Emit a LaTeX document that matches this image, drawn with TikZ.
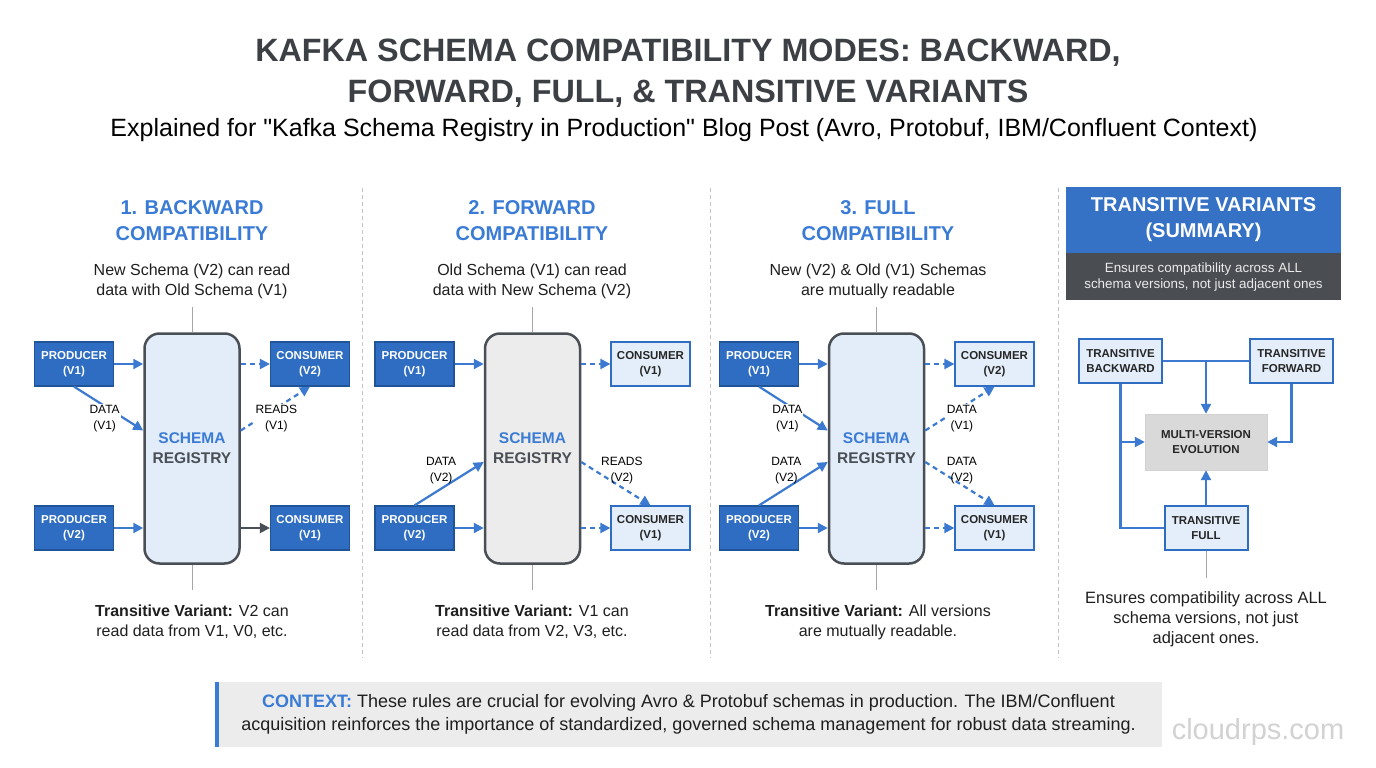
\documentclass[tikz,border=0pt]{standalone}
\usepackage{fontspec}
\setmainfont{Liberation Sans}
\usetikzlibrary{
  arrows.meta,
  positioning,
  calc
}
\definecolor{titlegray}{HTML}{3C4045}
\definecolor{headblue}{HTML}{3A7BD5}
\definecolor{prodblue}{HTML}{2E6DC2}
\definecolor{prodedge}{HTML}{1F5499}
\definecolor{conslight}{HTML}{E4EEFA}
\definecolor{regblue}{HTML}{E2EDF9}
\definecolor{reggray}{HTML}{ECECEC}
\definecolor{regedge}{HTML}{4A4F55}
\definecolor{flowblue}{HTML}{3B7AD0}
\definecolor{sepgray}{HTML}{C4C4C4}
\definecolor{darkband}{HTML}{4A4D52}
\definecolor{ctxgray}{HTML}{ECECEC}
\newcommand{\fsz}[2]{\fontsize{#1}{#2}\selectfont}

\begin{document}
\begin{tikzpicture}[
    x=1pt, y=-1pt,
    % Styles
    title/.style={
        font=\bfseries\fsz{32.3}{41}, text=titlegray,
        align=center, inner sep=0pt
    },
    heading/.style={
        font=\bfseries\fsz{20}{26}, text=headblue,
        align=center, inner sep=0pt
    },
    desc/.style={
        font=\fsz{16}{20}, text=black!88,
        align=center, inner sep=0pt
    },
    prodbox/.style={
        rectangle, draw=prodedge, line width=1.2pt,
        fill=prodblue, text=white,
        minimum width=79pt, minimum height=44pt,
        font=\bfseries\fsz{11.5}{15.5},
        align=center, inner sep=0pt
    },
    consbox/.style={
        prodbox, draw=prodblue, fill=conslight, text=black!85
    },
    registry/.style={
        rectangle, rounded corners=15pt,
        draw=regedge, line width=2.5pt,
        fill=#1, text=regedge,
        minimum width=95pt, minimum height=230pt,
        font=\bfseries\fsz{15.5}{20},
        align=center
    },
    flow/.style={-{Triangle[length=10pt,width=10pt]}, line width=2.2pt, draw=flowblue},
    dashflow/.style={flow, dash pattern=on 5pt off 4pt},
    darkflow/.style={flow, draw=regedge},
    lbl/.style={font=\fsz{12}{16}, text=black, align=center, fill=white, inner sep=1pt},
    stem/.style={draw=gray!70, line width=1pt},
    sep/.style={draw=sepgray, line width=1pt, dash pattern=on 4pt off 3pt},
    sumhead/.style={
        rectangle, fill=headblue!92!black, text=white,
        minimum width=275pt, minimum height=66pt,
        font=\bfseries\fsz{20}{26}, align=center, inner sep=0pt
    },
    sumband/.style={
        rectangle, fill=darkband, text=white!92!black,
        minimum width=275pt, minimum height=47pt,
        font=\fsz{13.4}{16.5}, align=center, inner sep=0pt
    },
    transbox/.style={
        rectangle, draw=prodblue, line width=2pt,
        fill=conslight, text=black!85,
        minimum width=83pt, minimum height=44pt,
        font=\bfseries\fsz{11.5}{15.5},
        align=center, inner sep=0pt
    },
    evolbox/.style={
        rectangle, draw=gray!35, fill=gray!30, text=black!85,
        minimum width=122pt, minimum height=56pt,
        font=\bfseries\fsz{11.5}{15.5},
        align=center, inner sep=0pt
    },
    tree/.style={line width=2.2pt, draw=flowblue},
    ctxbox/.style={
        rectangle, fill=ctxgray, text=black!88,
        minimum width=947pt, minimum height=65pt,
        font=\fsz{18}{23}, align=center, inner sep=0pt
    }
]

\useasboundingbox (0,0) rectangle (1376,768);
\fill[white] (0,0) rectangle (1376,768);

% ── TITLE ──
\node[title] (maintitle) at (688,73) {KAFKA SCHEMA COMPATIBILITY MODES: BACKWARD,\\FORWARD, FULL, \& TRANSITIVE VARIANTS};
\node[desc, font=\fsz{25}{30}, text=black] (subtitle) at (684,130) {Explained for \textquotedbl Kafka Schema Registry in Production\textquotedbl{} Blog Post (Avro, Protobuf, IBM/Confluent Context)};

% ── SEPARATORS ──
\draw[sep] (362,188) -- (362,658);
\draw[sep] (710,188) -- (710,658);
\draw[sep] (1058,188) -- (1058,658);

% ── PANEL 1: BACKWARD ──
\node[heading] (head1) at (192,221) {1. BACKWARD\\COMPATIBILITY};
\node[desc] (desc1) at (192,281) {New Schema (V2) can read\\data with Old Schema (V1)};

\node[registry=regblue] (reg1) at (192,448.5) {{\color{headblue}SCHEMA}\\REGISTRY};
\node[prodbox] (p1a) at (74,364) {PRODUCER\\(V1)};
\node[prodbox] (p1b) at (74,528) {PRODUCER\\(V2)};
\node[prodbox] (c1a) at (310,364) {CONSUMER\\(V2)};
\node[prodbox] (c1b) at (310,528) {CONSUMER\\(V1)};

\draw[flow] (p1a.east) -- (p1a -| reg1.west);
\draw[flow] (p1b.east) -- (p1b -| reg1.west);
\draw[flow] (p1a.south) -- node[lbl, xshift=-4pt, yshift=-10pt] (d1a) {DATA\\(V1)} ([yshift=18pt]reg1.west);
\draw[dashflow] (reg1.east |- c1a) -- (c1a.west);
\draw[dashflow] ([yshift=18pt]reg1.east) -- node[lbl, xshift=1pt, yshift=-10pt] (r1a) {READS\\(V1)} (c1a.south);
\draw[darkflow] (reg1.east |- c1b) -- (c1b.west);

\draw[stem] (reg1.north) -- ++(0,-25);
\draw[stem] (reg1.south) -- ++(0,25);
\node[desc] (foot1) at (192,622) {\textbf{Transitive Variant:} V2 can\\read data from V1, V0, etc.};

% ── PANEL 2: FORWARD ──
\node[heading] (head2) at (532,221) {2. FORWARD\\COMPATIBILITY};
\node[desc] (desc2) at (532,281) {Old Schema (V1) can read\\data with New Schema (V2)};

\node[registry=reggray] (reg2) at (532.5,448.5) {{\color{headblue}SCHEMA}\\REGISTRY};
\node[prodbox] (p2a) at (414.5,364) {PRODUCER\\(V1)};
\node[prodbox] (p2b) at (414.5,528) {PRODUCER\\(V2)};
\node[consbox] (c2a) at (650.5,364) {CONSUMER\\(V1)};
\node[consbox] (c2b) at (650.5,528) {CONSUMER\\(V1)};

\draw[flow] (p2a.east) -- (p2a -| reg2.west);
\draw[flow] (p2b.east) -- (p2b -| reg2.west);
\draw[flow] (p2b.north) -- node[lbl, fill=none, xshift=-8pt, yshift=13pt] (d2b) {DATA\\(V2)} ([yshift=-13.5pt]reg2.west);
\draw[dashflow] (reg2.east |- c2a) -- (c2a.west);
\draw[dashflow] ([yshift=-13.5pt]reg2.east) -- node[lbl, fill=none, xshift=6pt, yshift=13pt] (r2b) {READS\\(V2)} (c2b.north);
\draw[dashflow] (reg2.east |- c2b) -- (c2b.west);

\draw[stem] (reg2.north) -- ++(0,-25);
\draw[stem] (reg2.south) -- ++(0,25);
\node[desc] (foot2) at (532,622) {\textbf{Transitive Variant:} V1 can\\read data from V2, V3, etc.};

% ── PANEL 3: FULL ──
\node[heading] (head3) at (878,221) {3. FULL\\COMPATIBILITY};
\node[desc] (desc3) at (878,281) {New (V2) \& Old (V1) Schemas\\are mutually readable};

\node[registry=regblue] (reg3) at (876.5,448.5) {{\color{headblue}SCHEMA}\\REGISTRY};
\node[prodbox] (p3a) at (759,364) {PRODUCER\\(V1)};
\node[prodbox] (p3b) at (759,528) {PRODUCER\\(V2)};
\node[consbox] (c3a) at (994.5,364) {CONSUMER\\(V2)};
\node[consbox] (c3b) at (994.5,528) {CONSUMER\\(V1)};

\draw[flow] (p3a.east) -- (p3a -| reg3.west);
\draw[flow] (p3b.east) -- (p3b -| reg3.west);
\draw[flow] (p3a.south) -- node[lbl, xshift=-6pt, yshift=-10pt] (d3a) {DATA\\(V1)} ([yshift=18pt]reg3.west);
\draw[flow] (p3b.north) -- node[lbl, fill=none, xshift=-7pt, yshift=13pt] (d3b) {DATA\\(V2)} ([yshift=-13.5pt]reg3.west);
\draw[dashflow] (reg3.east |- c3a) -- (c3a.west);
\draw[dashflow] ([yshift=18pt]reg3.east) -- node[lbl, xshift=2pt, yshift=-10pt] (r3a) {DATA\\(V1)} (c3a.south);
\draw[dashflow] ([yshift=-13.5pt]reg3.east) -- node[lbl, fill=none, xshift=2pt, yshift=13pt] (r3b) {DATA\\(V2)} (c3b.north);
\draw[dashflow] (reg3.east |- c3b) -- (c3b.west);

\draw[stem] (reg3.north) -- ++(0,-25);
\draw[stem] (reg3.south) -- ++(0,25);
\node[desc] (foot3) at (878,622) {\textbf{Transitive Variant:} All versions\\are mutually readable.};

% ── PANEL 4: TRANSITIVE SUMMARY ──
\node[sumhead] (sumhd) at (1203.5,220) {TRANSITIVE VARIANTS\\(SUMMARY)};
\node[sumband, below=0pt of sumhd] (sumbd) {Ensures compatibility across ALL\\schema versions, not just adjacent ones};

\node[transbox] (tback) at (1120.5,361) {TRANSITIVE\\BACKWARD};
\node[transbox] (tfwd) at (1291.5,361) {TRANSITIVE\\FORWARD};
\node[evolbox] (evol) at (1206,442) {MULTI-VERSION\\EVOLUTION};
\node[transbox] (tfull) at (1206,528) {TRANSITIVE\\FULL};

\draw[tree] (tback.east) -- (tfwd.west);
\draw[tree, flow] ($(tback.east)!0.5!(tfwd.west)$) -- (evol.north);
\draw[tree, flow] (tfwd.south) |- (evol.east);
\draw[tree] (tback.south) |- (tfull.west);
\draw[tree, flow] (tback.south |- evol.west) -- (evol.west);
\draw[tree, flow] (tfull.north) -- (evol.south);

\draw[stem] (tfull.south) -- ++(0,27);
\node[desc, font=\fsz{16.4}{20}] (foot4) at (1206,619) {Ensures compatibility across ALL\\schema versions, not just\\adjacent ones.};

% ── CONTEXT ──
\node[ctxbox] (ctx) at (688.5,714.5) {{\color{headblue}\bfseries CONTEXT:} These rules are crucial for evolving Avro \& Protobuf schemas in production. The IBM/Confluent\\acquisition reinforces the importance of standardized, governed schema management for robust data streaming.};
\draw[line width=4pt, draw=headblue] ([xshift=2pt]ctx.north west) -- ([xshift=2pt]ctx.south west);

\node[font=\fsz{29}{32}, text=gray!35] (wmark) at (1258,732) {cloudrps.com};

\end{tikzpicture}
\end{document}
